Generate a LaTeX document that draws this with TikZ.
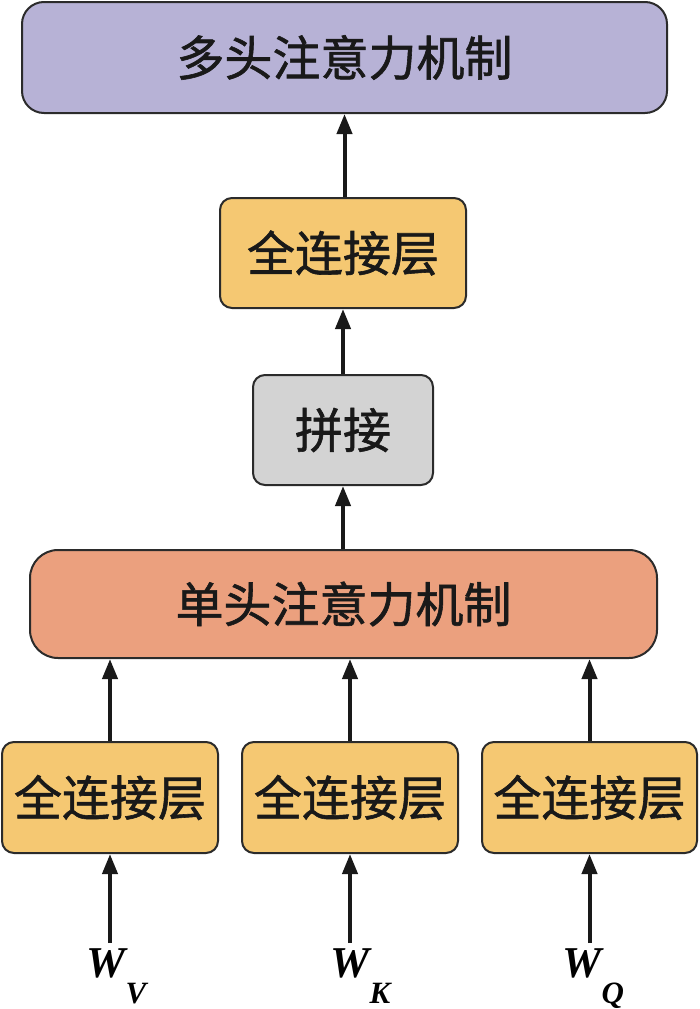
\documentclass[tikz,border=0pt]{standalone}
\usepackage{fontspec}
\setmainfont{Liberation Serif}
\newfontfamily\cjk[FakeBold=1.2]{Noto Sans CJK SC}
\usetikzlibrary{arrows.meta}
\definecolor{lav}{HTML}{B7B2D6}
\definecolor{org}{HTML}{F5C872}
\definecolor{gry}{HTML}{D3D3D3}
\definecolor{sal}{HTML}{EBA07E}
\definecolor{edge}{HTML}{2B2B2B}
\tikzset{
  box/.style={draw=edge, line width=2pt, inner sep=0pt, font=\cjk\fontsize{48}{52}\selectfont, text=black!90},
  arr/.style={line width=4pt, draw=black!90, -{Triangle[width=15pt,length=20pt]}},
  wlab/.style={inner sep=5pt, font=\fontsize{44}{48}\selectfont\bfseries\itshape},
}
\newcommand{\wsub}[1]{\rlap{\raisebox{-26pt}{\fontsize{31}{33}\selectfont\bfseries\itshape #1}}}
\begin{document}
\begin{tikzpicture}[x=1pt,y=-1pt]
\useasboundingbox (0,0) rectangle (700,1009);
\node[box, fill=lav, rounded corners=22pt, minimum width=645pt, minimum height=111pt] (mh) at (344.5,57.5) {多头注意力机制};
\node[box, fill=org, rounded corners=12pt, minimum width=246pt, minimum height=110pt] (fc) at (343,253) {全连接层};
\node[box, fill=gry, rounded corners=12pt, minimum width=180pt, minimum height=110pt] (pj) at (343,430) {拼接};
\node[box, fill=sal, rounded corners=28pt, minimum width=627pt, minimum height=108pt] (sh) at (343.5,604) {单头注意力机制};
\node[box, fill=org, rounded corners=12pt, minimum width=216pt, minimum height=111pt] (f1) at (110,797.5) {全连接层};
\node[box, fill=org, rounded corners=12pt, minimum width=216pt, minimum height=111pt] (f2) at (350,797.5) {全连接层};
\node[box, fill=org, rounded corners=12pt, minimum width=215pt, minimum height=111pt] (f3) at (589.5,797.5) {全连接层};
\node[wlab, anchor=base] (wv) at (106,977) {W\wsub{V}};
\node[wlab, anchor=base] (wk) at (350,977) {W\wsub{K}};
\node[wlab, anchor=base] (wq) at (582,977) {W\wsub{Q}};
\draw[arr] (fc.north -| mh.south) -- (mh.south);
\draw[arr] (pj.north) -- (fc.south);
\draw[arr] (sh.north -| pj.south) -- (pj.south);
\draw[arr] (f1.north) -- (f1.north |- sh.south);
\draw[arr] (f2.north) -- (f2.north |- sh.south);
\draw[arr] (f3.north) -- (f3.north |- sh.south);
\draw[arr] (f1.south |- wv.north) -- (f1.south);
\draw[arr] (f2.south |- wk.north) -- (f2.south);
\draw[arr] (f3.south |- wq.north) -- (f3.south);
\end{tikzpicture}
\end{document}
